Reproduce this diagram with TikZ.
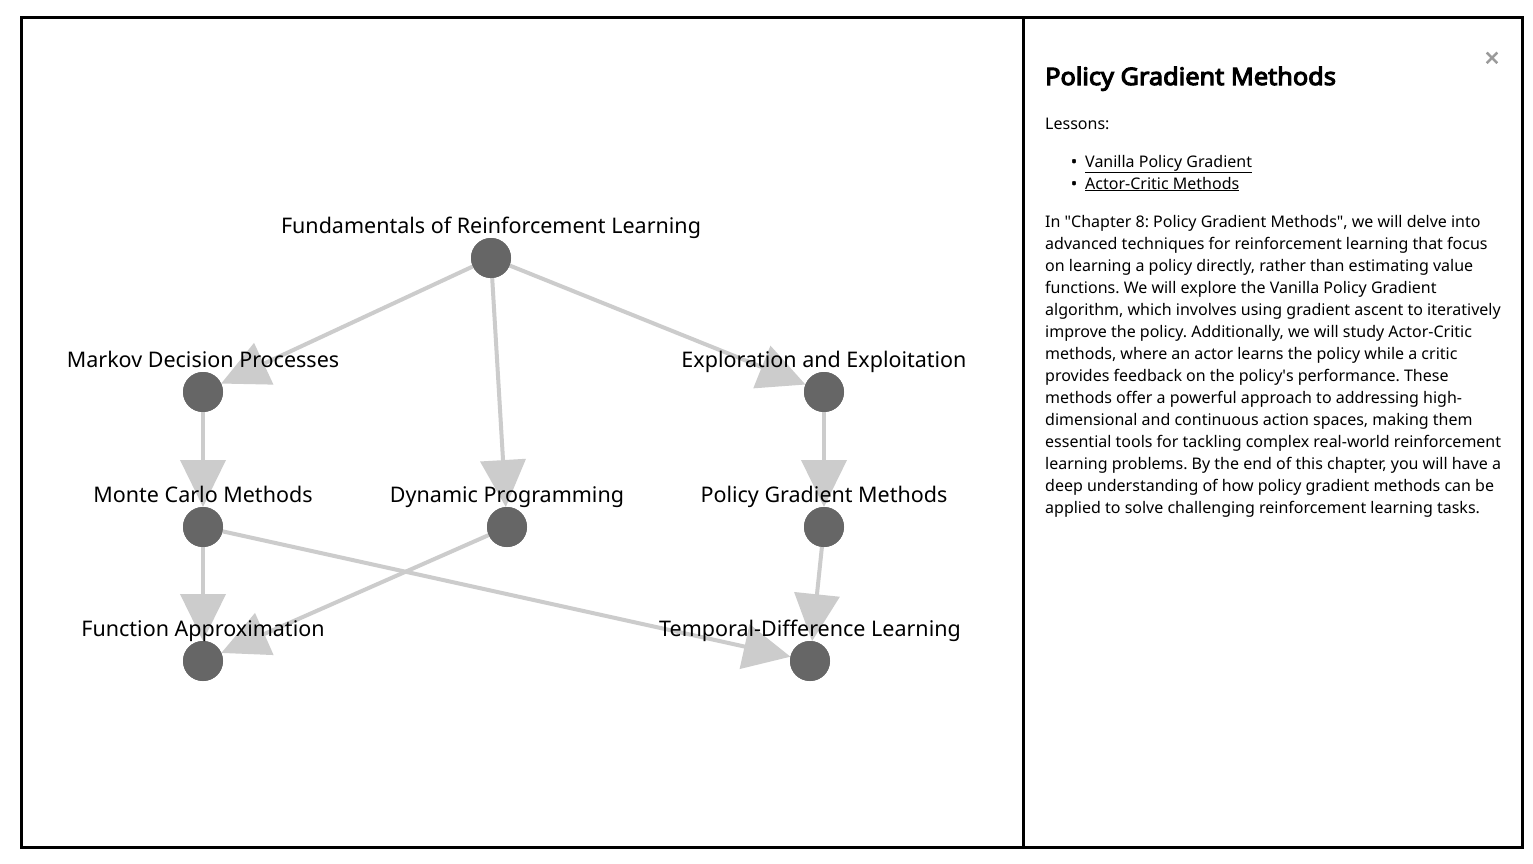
\documentclass[tikz,border=0pt]{standalone}
\usepackage{fontspec}
\setmainfont{Noto Sans}[AutoFakeBold=2.2]
\newfontfamily\titlefont{Noto Sans}[FakeBold=4.5,FakeStretch=1.055]
\usetikzlibrary{arrows.meta}
\definecolor{edgegray}{HTML}{CCCCCC}
\definecolor{nodegray}{HTML}{666666}
\definecolor{closegray}{HTML}{999999}
\frenchspacing
\begin{document}
\begin{tikzpicture}[x=1pt,y=-1pt,
  dot/.style={circle,fill=nodegray,minimum size=40pt,inner sep=0pt,outer sep=0pt},
  lab/.style={anchor=base,inner sep=0pt,font=\fontsize{21.5}{24}\selectfont},
  edge/.style={draw=edgegray,line width=4pt,-{Triangle[length=47pt,width=45pt]}},
  frame/.style={draw=black,line width=3pt},
  body/.style={anchor=base west,inner sep=0pt,font=\fontsize{16}{22}\selectfont}
]
\useasboundingbox (0,0) rectangle (1533,863);
\fill[white] (0,0) rectangle (1533,863);
% frame
\draw[frame] (21.5,17.5) rectangle (1522,847);
\draw[frame] (1023.5,17.5) -- (1023.5,847);
% nodes
\node[dot] (F) at (491,258) {};
\node[dot] (MDP) at (203,392) {};
\node[dot] (EE) at (824,392) {};
\node[dot] (MC) at (203,527) {};
\node[dot] (DP) at (507,527) {};
\node[dot] (PG) at (824,527) {};
\node[dot] (FA) at (203,661) {};
\node[dot] (TD) at (810,661) {};
% edges
\draw[edge] (F) -- (MDP);
\draw[edge] (F) -- (DP);
\draw[edge] (F) -- (EE);
\draw[edge] (MDP) -- (MC);
\draw[edge] (EE) -- (PG);
\draw[edge] (MC) -- (FA);
\draw[edge] (MC) -- (TD);
\draw[edge] (DP) -- (FA);
\draw[edge] (PG) -- (TD);
% redraw dots over edges
\foreach \n in {F,MDP,EE,MC,DP,PG,FA,TD} {\fill[nodegray] (\n) circle (20pt);}
% labels
\node[lab] (lF) at (491,233) {Fundamentals of Reinforcement Learning};
\node[lab] (lMDP) at (203,367) {Markov Decision Processes};
\node[lab] (lEE) at (824,367) {Exploration and Exploitation};
\node[lab] (lMC) at (203,502) {Monte Carlo Methods};
\node[lab] (lDP) at (507,502) {Dynamic Programming};
\node[lab] (lPG) at (824,502) {Policy Gradient Methods};
\node[lab] (lFA) at (203,636) {Function Approximation};
\node[lab] (lTD) at (810,636) {Temporal-Difference Learning};
% side panel
\node[anchor=base,inner sep=0pt,text=closegray,font=\fontsize{26}{26}\selectfont\bfseries] (close) at (1492,67) {×};
\node[anchor=base west,inner sep=0pt,font=\fontsize{24}{28}\titlefont] (title) at (1045,85) {Policy Gradient Methods};
\node[body] (lessons) at (1045,129) {Lessons:};
\node[anchor=base,inner sep=0pt,font=\fontsize{16}{22}\selectfont\bfseries] (b1) at (1074,167) {•};
\node[anchor=base,inner sep=0pt,font=\fontsize{16}{22}\selectfont\bfseries] (b2) at (1074,189) {•};
\node[body] (l1) at (1085,167) {\underline{Vanilla Policy Gradient}};
\node[body] (l2) at (1085,189) {\underline{Actor-Critic Methods}};
\node[body,align=left,anchor=north west] (para) at (1045,215) {In \textquotedbl Chapter 8: Policy Gradient Methods\textquotedbl, we will delve into\\
advanced techniques for reinforcement learning that focus\\
on learning a policy directly, rather than estimating value\\
functions. We will explore the Vanilla Policy Gradient\\
algorithm, which involves using gradient ascent to iteratively\\
improve the policy. Additionally, we will study Actor-Critic\\
methods, where an actor learns the policy while a critic\\
provides feedback on the policy\textquotesingle s performance. These\\
methods offer a powerful approach to addressing high-\\
dimensional and continuous action spaces, making them\\
essential tools for tackling complex real-world reinforcement\\
learning problems. By the end of this chapter, you will have a\\
deep understanding of how policy gradient methods can be\\
applied to solve challenging reinforcement learning tasks.};
\end{tikzpicture}
\end{document}
